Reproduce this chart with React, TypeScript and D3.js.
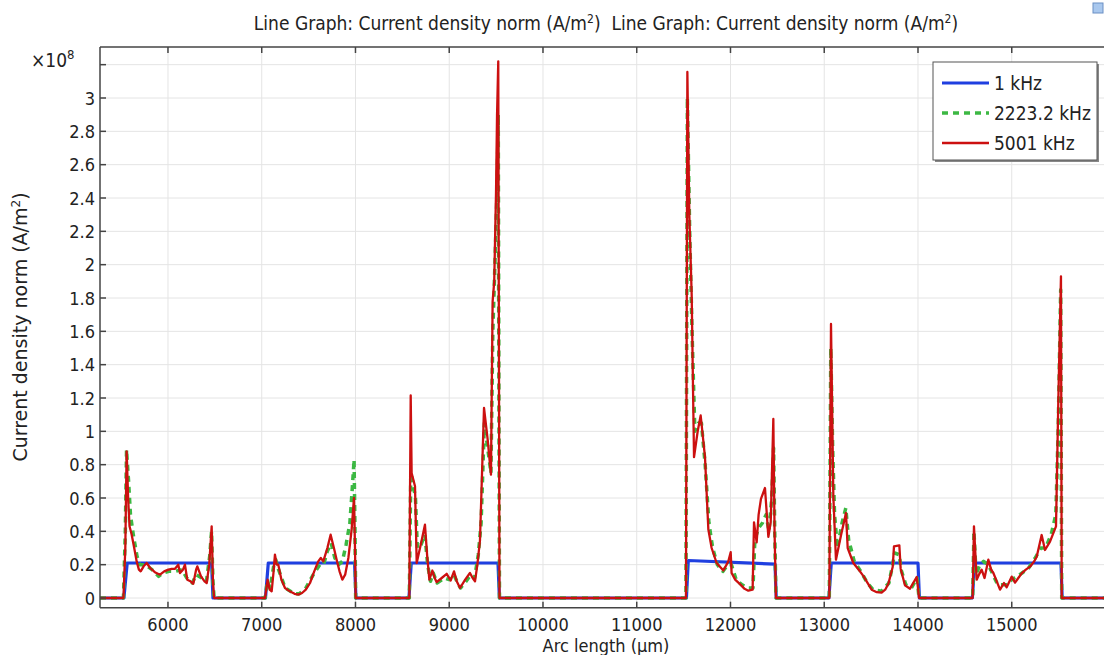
import React from "react";
import * as d3 from "d3";

// arc length in µm, current density in 1e8 A/m^2
type Pt = [number, number];

const xTicks = [6000, 7000, 8000, 9000, 10000, 11000, 12000, 13000, 14000, 15000];
const yGrid = [0, 0.2, 0.4, 0.6, 0.8, 1, 1.2, 1.4, 1.6, 1.8, 2, 2.2, 2.4, 2.6, 2.8, 3, 3.2];
const yLabels = [0, 0.2, 0.4, 0.6, 0.8, 1, 1.2, 1.4, 1.6, 1.8, 2, 2.2, 2.4, 2.6, 2.8, 3];

const blue1k: Pt[] = [
  [5275, 0], [5530, 0], [5565, 0.21], [6465, 0.21], [6480, 0],
  [7040, 0], [7070, 0.21], [7990, 0.21], [8005, 0],
  [8570, 0], [8595, 0.21], [9520, 0.21], [9535, 0],
  [11530, 0], [11550, 0.225], [12475, 0.203], [12488, 0],
  [13050, 0], [13075, 0.21], [14000, 0.21], [14015, 0],
  [14580, 0], [14605, 0.21], [15525, 0.21], [15538, 0], [16100, 0],
];

const green2223: Pt[] = [
  [5275, 0], [5525, 0], [5545, 0.4], [5558, 0.89], [5580, 0.7], [5600, 0.5], [5630, 0.38], [5670, 0.25],
  [5700, 0.2], [5760, 0.2], [5830, 0.17], [5900, 0.13], [5950, 0.15], [6010, 0.16], [6080, 0.16],
  [6150, 0.17], [6200, 0.12], [6260, 0.09], [6300, 0.14], [6360, 0.12], [6410, 0.1], [6445, 0.25],
  [6465, 0.4], [6480, 0.1], [6492, 0],
  [7035, 0], [7060, 0.1], [7090, 0.06], [7130, 0.2], [7150, 0.23], [7180, 0.17], [7250, 0.06],
  [7350, 0.025], [7400, 0.025], [7470, 0.06], [7550, 0.14], [7620, 0.2], [7660, 0.2], [7700, 0.28],
  [7740, 0.33], [7780, 0.24], [7820, 0.2], [7860, 0.22], [7900, 0.32], [7940, 0.45], [7965, 0.65],
  [7985, 0.83], [7995, 0.4], [8002, 0],
  [8574, 0], [8590, 0.75], [8610, 0.7], [8640, 0.6], [8660, 0.3], [8700, 0.32], [8740, 0.38],
  [8770, 0.2], [8800, 0.1], [8830, 0.15], [8870, 0.09], [8950, 0.12], [9000, 0.11], [9050, 0.14],
  [9090, 0.09], [9120, 0.06], [9180, 0.1], [9230, 0.14], [9270, 0.12], [9310, 0.26], [9340, 0.45],
  [9375, 1.05], [9410, 0.9], [9445, 0.75], [9465, 1.6], [9490, 2.05], [9510, 2.45], [9523, 2.9],
  [9530, 1.2], [9536, 0],
  [11525, 0], [11540, 3.0], [11565, 2.2], [11590, 1.6], [11620, 1.0], [11660, 1.05], [11690, 1.05],
  [11730, 0.8], [11770, 0.45], [11810, 0.3], [11860, 0.2], [11920, 0.16], [11970, 0.2], [12010, 0.2],
  [12060, 0.11], [12120, 0.08], [12190, 0.06], [12240, 0.06], [12260, 0.35], [12300, 0.42],
  [12340, 0.45], [12380, 0.5], [12410, 0.4], [12440, 0.6], [12460, 0.9], [12472, 0.4], [12485, 0],
  [13054, 0], [13070, 1.5], [13090, 0.9], [13110, 0.5], [13140, 0.3], [13190, 0.45], [13230, 0.54],
  [13260, 0.35], [13320, 0.22], [13400, 0.15], [13460, 0.09], [13520, 0.05], [13610, 0.04],
  [13690, 0.09], [13730, 0.2], [13750, 0.27], [13800, 0.26], [13820, 0.17], [13870, 0.08],
  [13930, 0.06], [13990, 0.12], [14011, 0],
  [14583, 0], [14597, 0.4], [14620, 0.14], [14660, 0.2], [14700, 0.22], [14750, 0.2], [14800, 0.14],
  [14850, 0.08], [14900, 0.08], [14950, 0.08], [15000, 0.11], [15060, 0.13], [15110, 0.15],
  [15180, 0.18], [15250, 0.24], [15310, 0.3], [15360, 0.3], [15420, 0.38], [15470, 0.5],
  [15495, 1.0], [15522, 1.85], [15533, 0], [16100, 0],
];

const red5001: Pt[] = [
  [5275, 0], [5525, 0], [5545, 0.3], [5559, 0.88], [5575, 0.6], [5590, 0.43], [5613, 0.38], [5640, 0.3],
  [5666, 0.22], [5690, 0.17], [5709, 0.16], [5740, 0.19], [5773, 0.21], [5810, 0.18], [5860, 0.155],
  [5915, 0.14], [5960, 0.16], [6003, 0.17], [6040, 0.175], [6075, 0.175], [6110, 0.2], [6128, 0.15],
  [6160, 0.17], [6181, 0.2], [6206, 0.11], [6240, 0.1], [6270, 0.085], [6300, 0.17], [6313, 0.19],
  [6352, 0.13], [6390, 0.1], [6413, 0.09], [6440, 0.2], [6466, 0.43], [6480, 0.1], [6492, 0],
  [7035, 0], [7063, 0.11], [7085, 0.05], [7106, 0.04], [7125, 0.15], [7141, 0.26], [7160, 0.2],
  [7177, 0.2], [7210, 0.11], [7248, 0.06], [7300, 0.04], [7350, 0.025], [7390, 0.02], [7430, 0.03],
  [7470, 0.05], [7515, 0.09], [7560, 0.16], [7603, 0.22], [7630, 0.24], [7657, 0.22], [7700, 0.3],
  [7735, 0.38], [7770, 0.3], [7799, 0.23], [7830, 0.16], [7860, 0.11], [7890, 0.14], [7924, 0.24],
  [7959, 0.41], [7984, 0.6], [7995, 0.3], [8002, 0],
  [8574, 0], [8589, 1.215], [8599, 0.75], [8635, 0.67], [8653, 0.21], [8700, 0.33], [8741, 0.44],
  [8765, 0.25], [8788, 0.11], [8820, 0.165], [8845, 0.12], [8866, 0.095], [8920, 0.12], [8973, 0.145],
  [9015, 0.105], [9051, 0.16], [9080, 0.1], [9115, 0.06], [9170, 0.11], [9221, 0.15], [9250, 0.12],
  [9275, 0.1], [9300, 0.2], [9328, 0.345], [9371, 1.14], [9410, 0.95], [9445, 0.74], [9463, 1.78],
  [9480, 1.9], [9499, 2.43], [9510, 2.9], [9523, 3.22], [9530, 1.5], [9536, 0],
  [11525, 0], [11540, 3.156], [11561, 2.3], [11586, 1.82], [11611, 0.845], [11650, 1.0], [11682, 1.095],
  [11728, 0.845], [11764, 0.41], [11799, 0.3], [11852, 0.21], [11924, 0.165], [11977, 0.22],
  [12002, 0.275], [12012, 0.15], [12050, 0.11], [12101, 0.083], [12150, 0.055], [12190, 0.044],
  [12236, 0.05], [12251, 0.454], [12279, 0.334], [12300, 0.5], [12325, 0.595], [12368, 0.66],
  [12404, 0.367], [12429, 0.454], [12457, 1.074], [12470, 0.4], [12485, 0],
  [13054, 0], [13072, 1.644], [13097, 0.61], [13125, 0.23], [13180, 0.38], [13232, 0.51], [13250, 0.3],
  [13310, 0.21], [13381, 0.16], [13420, 0.13], [13452, 0.1], [13506, 0.05], [13560, 0.035],
  [13612, 0.032], [13650, 0.05], [13684, 0.086], [13730, 0.186], [13744, 0.31], [13801, 0.316],
  [13815, 0.176], [13861, 0.076], [13915, 0.056], [13986, 0.126], [14000, 0.06], [14011, 0],
  [14583, 0], [14597, 0.43], [14626, 0.11], [14650, 0.14], [14679, 0.17], [14710, 0.12], [14750, 0.23],
  [14780, 0.17], [14804, 0.15], [14840, 0.1], [14875, 0.05], [14917, 0.09], [14946, 0.064],
  [14999, 0.128], [15035, 0.092], [15070, 0.12], [15106, 0.148], [15150, 0.17], [15195, 0.188],
  [15240, 0.22], [15266, 0.248], [15319, 0.378], [15355, 0.288], [15408, 0.338], [15472, 0.43],
  [15497, 1.19], [15525, 1.93], [15533, 0], [16100, 0],
];

const legendNames = ["1 kHz", "2223.2 kHz", "5001 kHz"];

const W = 1104, H = 655;
const left = 100, top = 47, right = 1104, bottom = 607.7;
const condensed = "'DejaVu Sans Condensed', 'DejaVu Sans', sans-serif";

const BLUE = "#1f3fe0";
const GREEN = "#3cb843";
const RED = "#cc1010";

export default function App() {
  const x = d3.scaleLinear().domain([5275, 15984]).range([left, right]);
  const y = d3.scaleLinear().domain([-0.0582, 3.306]).range([bottom, top]);
  const line = d3.line<Pt>().x(d => x(d[0])).y(d => y(d[1]));

  const fmt = (v: number) => String(Number(v.toFixed(1)));

  return (
    <svg width={W} height={H} style={{ position: "absolute", left: 0, top: 0, background: "#fff" }}
      fontFamily={condensed}>
      <defs>
        <clipPath id="plot">
          <rect x={left} y={top} width={right - left} height={bottom - top} />
        </clipPath>
      </defs>

      {/* title */}
      <text x={606} y={30} textAnchor="middle" fontSize={19} fill="#222" xmlSpace="preserve">
        Line Graph: Current density norm (A/m<tspan dy={-7} fontSize={12}>2</tspan><tspan dy={7}>{")\u00a0\u00a0Line Graph: Current density norm (A/m"}</tspan><tspan dy={-7} fontSize={12}>2</tspan><tspan dy={7}>)</tspan>
      </text>
      <rect x={1093} y={3} width={10} height={10} fill="#a9c8ee" stroke="#6b8fc4" />

      {/* grid */}
      <g stroke="#e4e4e4" strokeWidth={1}>
        {xTicks.map(t => <line key={"gx" + t} x1={x(t)} x2={x(t)} y1={top} y2={bottom} />)}
        {yGrid.map(t => <line key={"gy" + t} x1={left} x2={right} y1={y(t)} y2={y(t)} />)}
      </g>

      {/* series */}
      <g clipPath="url(#plot)" fill="none" strokeLinejoin="round">
        <path d={line(blue1k) || ""} stroke={BLUE} strokeWidth={3.2} />
        <path d={line(green2223) || ""} stroke={GREEN} strokeWidth={3.5} strokeDasharray="6,5" />
        <path d={line(red5001) || ""} stroke={RED} strokeWidth={2.3} />
      </g>

      {/* frame and ticks */}
      <g stroke="#444" strokeWidth={1.5}>
        <line x1={left} x2={right} y1={top} y2={top} />
        <line x1={left} x2={right} y1={bottom} y2={bottom} />
        <line x1={left} x2={left} y1={top} y2={bottom} />
        {xTicks.map(t => <line key={"tb" + t} x1={x(t)} x2={x(t)} y1={bottom} y2={bottom - 6} />)}
        {xTicks.map(t => <line key={"tt" + t} x1={x(t)} x2={x(t)} y1={top} y2={top + 6} />)}
        {yGrid.map(t => <line key={"tl" + t} x1={left} x2={left + 6} y1={y(t)} y2={y(t)} />)}
      </g>

      {/* tick labels */}
      <g fontSize={18} fill="#222">
        {xTicks.map(t => <text key={"lx" + t} x={x(t)} y={631} textAnchor="middle">{t}</text>)}
        {yLabels.map(t => <text key={"ly" + t} x={95} y={y(t) + 6.5} textAnchor="end">{fmt(t)}</text>)}
      </g>
      <text x={31} y={67} fontSize={19} fill="#222">×10<tspan dy={-8} fontSize={13}>8</tspan></text>

      {/* axis labels */}
      <text x={606} y={652} textAnchor="middle" fontSize={18} fill="#222">Arc length (µm)</text>
      <text transform="translate(27,327) rotate(-90)" textAnchor="middle" fontSize={19} fill="#222"
        fontFamily="'DejaVu Sans', sans-serif">
        Current density norm (A/m<tspan dy={-7} fontSize={12}>2</tspan><tspan dy={7}>)</tspan>
      </text>

      {/* legend */}
      <g>
        <rect x={935} y={64} width={164} height={98} fill="#888" />
        <rect x={933} y={62} width={164} height={98} fill="#fff" stroke="#555" strokeWidth={1} />
        {legendNames.map((name, i) => {
          const ly = 83 + i * 30;
          const col = [BLUE, GREEN, RED][i];
          return (
            <g key={name}>
              <line x1={942} x2={989} y1={ly} y2={ly} stroke={col}
                strokeWidth={i === 0 ? 3.2 : i === 1 ? 3.5 : 2.3}
                strokeDasharray={i === 1 ? "6,5" : undefined} />
              <text x={994} y={ly + 7} fontSize={19} fill="#222">{name}</text>
            </g>
          );
        })}
      </g>
    </svg>
  );
}
